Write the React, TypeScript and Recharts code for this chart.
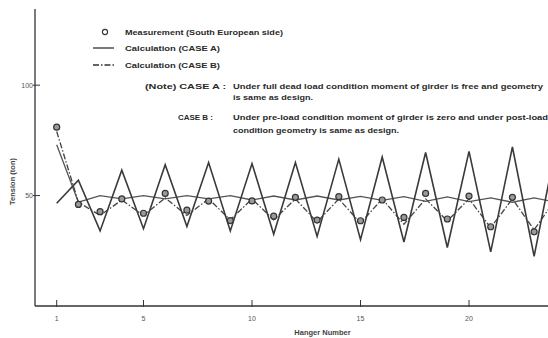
import React from 'react'
import { LineChart, Line, XAxis, YAxis, Label } from 'recharts'

// hanger numbers along the deck
const hangers = [1, 2, 3, 4, 5, 6, 7, 8, 9, 10, 11, 12, 13, 14, 15, 16, 17, 18, 19, 20, 21, 22, 23, 24]

// measured tension (ton), circles
const measured = [81, 46, 42.7, 48.5, 42, 51, 43.4, 47.5, 38.7, 47.6, 40.7, 49.2, 38.9, 49.5, 38.6, 48, 40.1, 51, 39.4, 49.8, 35.9, 49.2, 33.6, null]

// big zigzag calculation
const caseA = [46.5, 57, 34, 61.5, 35, 64, 36, 65, 34, 64.5, 32.5, 65, 31.5, 66.5, 30, 67.5, 29, 69.5, 26.5, 70, 24.5, 72, 22.5, 72]

// dash-dot calculation following the measurements
const caseB = [79, 47, 41, 48, 41, 49, 41, 48.5, 39, 48.5, 39, 48.5, 38, 48.5, 37.5, 48.5, 37, 48.5, 38.5, 48.5, 35.5, 48.5, 34.5, 48.5]

// nearly flat wavy line
const flat = [73, 47, 50, 48.5, 50, 48.5, 50, 48.5, 50, 48, 49.8, 48, 49.8, 48, 49.6, 47.8, 49.5, 47.4, 49.4, 47.3, 49, 47, 49, 47]

const xTicks = [1, 5, 10, 15, 20]
const yTicks = [50, 100]

const data = hangers.map((h, i) => ({
  hanger: h,
  measured: measured[i],
  caseA: caseA[i],
  caseB: caseB[i],
  flat: flat[i],
}))

const ink = '#333'
const font = '"Liberation Sans", Arial, sans-serif'

const XTick = ({ x, y, payload }: any) => (
  <g>
    <line x1={x} x2={x} y1={y - 6} y2={y + 1} stroke={ink} strokeWidth={1} />
    <text x={x} y={y + 15} textAnchor="middle" fontSize={7} fill="#555" fontFamily={font}>
      {payload.value}
    </text>
  </g>
)

const YTick = ({ x, y, payload }: any) => (
  <g>
    <line x1={x - 2} x2={x + 5} y1={y} y2={y} stroke={ink} strokeWidth={1} />
    <text x={x - 2} y={y + 2.5} textAnchor="end" fontSize={7} fill="#555" fontFamily={font}>
      {payload.value}
    </text>
  </g>
)

const MeasureDot = ({ cx, cy, value }: any) => {
  if (value == null || cx == null || cy == null) return null
  return <circle cx={cx} cy={cy} r={3} fill="#9a9a9a" stroke={ink} strokeWidth={1.2} />
}

const txt = { fontFamily: font, fontSize: 8, fontWeight: 700, fill: '#2a2a2a' } as const

export default function App() {
  return (
    <div style={{ position: 'absolute', left: 0, top: 0, width: 548, height: 338, background: '#fff' }}>
      <LineChart width={548} height={338} data={data} margin={{ top: 9, right: 0, bottom: 0, left: 0 }}>
        <XAxis
          type="number"
          dataKey="hanger"
          domain={[0, 23.64]}
          allowDataOverflow
          ticks={xTicks}
          tick={<XTick />}
          tickLine={false}
          tickSize={0}
          tickMargin={0}
          height={32}
          stroke={ink}
          strokeWidth={1.3}
        >
          <Label
            value="Hanger   Number"
            position="insideBottom"
            offset={3}
            dx={31}
            style={{ fontFamily: font, fontSize: 7.5, fontWeight: 700, fill: '#444' }}
          />
        </XAxis>
        <YAxis
          type="number"
          domain={[0, 134.5]}
          ticks={yTicks}
          tick={<YTick />}
          tickLine={false}
          tickSize={0}
          tickMargin={0}
          width={35}
          stroke={ink}
          strokeWidth={1.3}
        >
          <Label
            value="Tension  (ton)"
            angle={-90}
            position="insideLeft"
            offset={12}
            dy={24}
            style={{ fontFamily: font, fontSize: 7.5, fontWeight: 700, fill: '#444', textAnchor: 'middle' }}
          />
        </YAxis>
        <Line type="linear" dataKey="flat" stroke="#555" strokeWidth={1.3} dot={false} isAnimationActive={false} />
        <Line
          type="linear"
          dataKey="caseB"
          stroke="#444"
          strokeWidth={1.3}
          strokeDasharray="6 2 1.5 2"
          dot={false}
          isAnimationActive={false}
        />
        <Line type="linear" dataKey="caseA" stroke="#3a3a3a" strokeWidth={1.6} dot={false} isAnimationActive={false} />
        <Line
          type="linear"
          dataKey="measured"
          stroke="none"
          dot={<MeasureDot />}
          activeDot={false}
          connectNulls={false}
          isAnimationActive={false}
        />
      </LineChart>

      <svg width={548} height={338} style={{ position: 'absolute', left: 0, top: 0, pointerEvents: 'none' }}>
        <circle cx={105} cy={32} r={2.6} fill="#fff" stroke={ink} strokeWidth={1.1} />
        <text x={125} y={35} textLength={158} lengthAdjust="spacingAndGlyphs" {...txt}>
          Measurement  (South European side)
        </text>
        <line x1={93} x2={114} y1={48} y2={48} stroke={ink} strokeWidth={1.3} />
        <text x={125} y={51} textLength={95} lengthAdjust="spacingAndGlyphs" {...txt}>
          Calculation  (CASE  A)
        </text>
        <line x1={93} x2={114} y1={65} y2={65} stroke={ink} strokeWidth={1.3} strokeDasharray="6 2 1.5 2" />
        <text x={125} y={68} textLength={95} lengthAdjust="spacingAndGlyphs" {...txt}>
          Calculation  (CASE  B)
        </text>
        <text x={145} y={89} textLength={81} lengthAdjust="spacingAndGlyphs" {...txt}>
          (Note)  CASE  A  :
        </text>
        <text x={233} y={89} textLength={310} lengthAdjust="spacingAndGlyphs" {...txt}>
          Under full dead load condition moment of girder is free and geometry
        </text>
        <text x={233} y={100} textLength={80} lengthAdjust="spacingAndGlyphs" {...txt}>
          is same as design.
        </text>
        <text x={178} y={120} textLength={35} lengthAdjust="spacingAndGlyphs" {...txt}>
          CASE  B  :
        </text>
        <text x={233} y={120} textLength={315} lengthAdjust="spacingAndGlyphs" {...txt}>
          Under pre-load condition moment of girder is zero and under post-load
        </text>
        <text x={233} y={133} textLength={166} lengthAdjust="spacingAndGlyphs" {...txt}>
          condition geometry is same as design.
        </text>
      </svg>
    </div>
  )
}
